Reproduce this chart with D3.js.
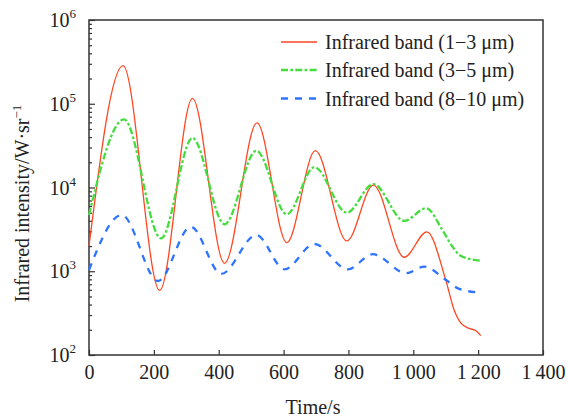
<!DOCTYPE html>
<html><head><meta charset="utf-8">
<script src="https://cdn.jsdelivr.net/npm/d3@7"></script>
<style>
html,body{margin:0;padding:0;background:#fff;}
svg text{font-family:"Liberation Serif","Times New Roman",serif;fill:#222;}
</style></head>
<body><svg id="c" width="568" height="419"></svg>
<script>
// Data (time in s, intensity in W·sr^-1)
const seriesNames = ["Infrared band (1\u22123 \u03bcm)", "Infrared band (3\u22125 \u03bcm)", "Infrared band (8\u221210 \u03bcm)"];
const band13T = [0, 105, 218, 319, 418, 518, 610, 698, 795, 877, 972, 1042, 1100, 1126, 1147, 1172, 1193, 1208];
const band13V = [2000, 285000, 590, 116000, 1245, 59000, 2200, 27500, 2300, 10700, 1470, 2960, 790, 345, 240, 208, 195, 170];
const band35T = [0, 108, 222, 319, 418, 516, 610, 695, 795, 877, 972, 1040, 1090, 1121, 1147, 1206];
const band35V = [4700, 65000, 2470, 39000, 3640, 27500, 4790, 17500, 5000, 11000, 4000, 5650, 3100, 1960, 1520, 1340];
const band810T = [0, 101, 213, 314, 408, 516, 603, 695, 798, 875, 978, 1034, 1100, 1142, 1198];
const band810V = [1035, 4700, 765, 3400, 930, 2710, 1055, 2115, 1055, 1600, 950, 1135, 790, 615, 560];
const xTicks = [0, 200, 400, 600, 800, 1000, 1200, 1400];
const yTicks = [1e2, 1e3, 1e4, 1e5, 1e6];
const colors = ["#ff4620", "#44dd3e", "#2f74ff"];

const svg = d3.select("#c");
const L = 89, R = 543, T = 20, B = 355;
const x = d3.scaleLinear().domain([0, 1400]).range([L, R]);
const y = d3.scaleLog().domain([1e2, 1e6]).range([B, T]);

const fmtX = d => d >= 1000 ? Math.floor(d / 1000) + "\u2009" + String(d % 1000).padStart(3, "0") : String(d);

// x axis
const gx = svg.append("g").attr("transform", `translate(0,${B})`)
  .call(d3.axisBottom(x).tickValues(xTicks).tickSize(-5).tickFormat(fmtX));
gx.select(".domain").remove();
gx.selectAll(".tick line").attr("stroke", "#333").attr("stroke-width", 1.2);
gx.selectAll(".tick text").attr("y", 24).attr("dy", 0).attr("font-size", 20)
  .attr("font-family", "Liberation Serif").attr("fill", "#222");

// y axis major + minor
const minor = [];
for (let e = 2; e < 6; e++) for (let k = 2; k <= 9; k++) minor.push(k * Math.pow(10, e));
svg.append("g").attr("transform", `translate(${L},0)`)
  .call(d3.axisLeft(y).tickValues(minor).tickSize(-3).tickFormat(""))
  .call(g => { g.select(".domain").remove(); g.selectAll(".tick line").attr("stroke", "#333").attr("stroke-width", 1.2); });
const gy = svg.append("g").attr("transform", `translate(${L},0)`)
  .call(d3.axisLeft(y).tickValues(yTicks).tickSize(-6).tickFormat(""));
gy.select(".domain").remove();
gy.selectAll(".tick line").attr("stroke", "#333").attr("stroke-width", 1.2);
gy.selectAll(".tick text").remove();
yTicks.forEach(v => {
  const t = svg.append("text").attr("x", 76).attr("y", y(v) + 7).attr("text-anchor", "end")
    .attr("font-size", 20);
  t.append("tspan").text("10");
  t.append("tspan").attr("dy", -9).attr("font-size", 13).text(String(Math.round(Math.log10(v))));
});

// frame
svg.append("rect").attr("x", L).attr("y", T).attr("width", R - L).attr("height", B - T)
  .attr("fill", "none").attr("stroke", "#333").attr("stroke-width", 1.5);

// lines
const line = d3.line().x(d => x(d[0])).y(d => y(d[1])).curve(d3.curveMonotoneX);
const data = [
  d3.zip(band13T, band13V),
  d3.zip(band35T, band35V),
  d3.zip(band810T, band810V)
];
const dashes = [null, "7,2.3,2.7,2.3", "7,7"];
const widths = [1.3, 2.3, 2.3];
data.forEach((d, i) => {
  svg.append("path").datum(d).attr("d", line).attr("fill", "none")
    .attr("stroke", colors[i]).attr("stroke-width", widths[i])
    .attr("stroke-dasharray", dashes[i]);
});

// legend
const legY = [42, 70, 98.5];
seriesNames.forEach((n, i) => {
  svg.append("line").attr("x1", 281).attr("x2", 317).attr("y1", legY[i]).attr("y2", legY[i])
    .attr("stroke", colors[i]).attr("stroke-width", widths[i]).attr("stroke-dasharray", dashes[i]);
  svg.append("text").attr("x", 325).attr("y", legY[i] + 7).attr("font-size", 20).text(n);
});

// axis titles
svg.append("text").attr("x", (L + R) / 2 - 3).attr("y", 414).attr("text-anchor", "middle")
  .attr("font-size", 20).text("Time/s");
const yt = svg.append("text").attr("transform", `translate(29,${(T + B) / 2 + 16}) rotate(-90)`)
  .attr("text-anchor", "middle").attr("font-size", 20);
yt.append("tspan").text("Infrared intensity/W\u00b7sr");
yt.append("tspan").attr("dy", -8).attr("font-size", 13).text("\u22121");
</script></body></html>
